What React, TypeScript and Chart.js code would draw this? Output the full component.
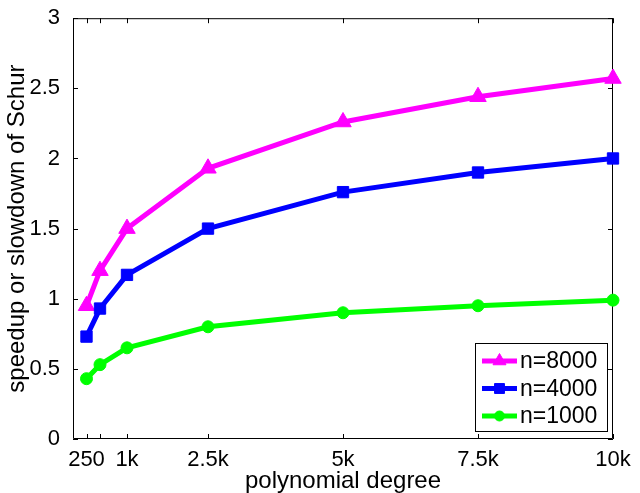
import { useEffect, useRef } from 'react';
import { Chart, registerables } from 'chart.js';
import { drawPoint } from 'chart.js/helpers';

Chart.register(...registerables);

// polynomial degree (x) and measured speedup for each problem size n
const degrees = [250, 500, 1000, 2500, 5000, 7500, 10000];
const speedupN8000 = [0.95, 1.2, 1.5, 1.93, 2.26, 2.44, 2.57];
const speedupN4000 = [0.73, 0.93, 1.17, 1.5, 1.76, 1.9, 2.0];
const speedupN1000 = [0.43, 0.53, 0.65, 0.8, 0.9, 0.95, 0.99];

const seriesNames = ['n=8000', 'n=4000', 'n=1000'];
const seriesColors = ['#ff00ff', '#0000ff', '#00ff00'];

const xTickValues = [250, 500, 1000, 2500, 5000, 7500, 10000];
const xTickLabels = ['250', '', '1k', '2.5k', '5k', '7.5k', '10k'];
const yTickValues = [0, 0.5, 1, 1.5, 2, 2.5, 3];
const yTickLabels = ['0', '0.5', '1', '1.5', '2', '2.5', '3'];

const FONT = '"Liberation Sans", Arial, Helvetica, sans-serif';

// Box around the axes with inward tick marks on all four sides
const framePlugin = {
  id: 'frame',
  beforeDatasetsDraw(chart: any) {
    const { ctx, chartArea: a, scales } = chart;
    const tl = 5;
    ctx.save();
    ctx.strokeStyle = '#000';
    ctx.lineWidth = 1;
    ctx.beginPath();
    ctx.rect(a.left + 0.5, a.top + 0.5, a.right - a.left - 1, a.bottom - a.top - 1);
    for (const v of xTickValues) {
      const x = Math.round(scales.x.getPixelForValue(v)) + 0.5;
      ctx.moveTo(x, a.bottom);
      ctx.lineTo(x, a.bottom - tl);
      ctx.moveTo(x, a.top);
      ctx.lineTo(x, a.top + tl);
    }
    for (const v of yTickValues) {
      const y = Math.round(scales.y.getPixelForValue(v)) + 0.5;
      ctx.moveTo(a.left, y);
      ctx.lineTo(a.left + tl, y);
      ctx.moveTo(a.right, y);
      ctx.lineTo(a.right - tl, y);
    }
    ctx.stroke();
    ctx.restore();
  },
};

// Boxed legend in the lower-right corner of the plot area
const boxLegendPlugin = {
  id: 'boxLegend',
  afterDraw(chart: any) {
    const { ctx, chartArea: a } = chart;
    const boxRight = a.right - 5;
    const boxBottom = a.bottom - 7;
    const boxW = 133;
    const rowH = 27.5;
    const boxH = 89;
    const left = boxRight - boxW;
    const top = boxBottom - boxH;
    ctx.save();
    ctx.fillStyle = '#fff';
    ctx.fillRect(left, top, boxW, boxH);
    ctx.strokeStyle = '#000';
    ctx.lineWidth = 1;
    ctx.strokeRect(left + 0.5, top + 0.5, boxW - 1, boxH - 1);
    ctx.font = `23px ${FONT}`;
    ctx.textBaseline = 'middle';
    ctx.textAlign = 'left';
    chart.data.datasets.forEach((ds: any, i: number) => {
      const y = top + 18 + i * rowH;
      const x0 = left + 7;
      const x1 = left + 42;
      ctx.strokeStyle = ds.borderColor;
      ctx.fillStyle = ds.borderColor;
      ctx.lineWidth = 5;
      ctx.beginPath();
      ctx.moveTo(x0, y);
      ctx.lineTo(x1, y);
      ctx.stroke();
      ctx.lineWidth = 1;
      drawPoint(ctx, {
        pointStyle: ds.pointStyle,
        radius: ds.pointStyle === 'triangle' ? 7.5 : ds.pointStyle === 'rect' ? 7 : 5,
        rotation: 0,
        borderWidth: 1,
      } as any, (x0 + x1) / 2, y);
      ctx.fillStyle = '#000';
      ctx.fillText(ds.label, x1 + 3, y + 1);
    });
    ctx.restore();
  },
};

function makeDataset(label: string, color: string, values: number[], style: string, radius: number, order: number) {
  return {
    label,
    data: degrees.map((d, i) => ({ x: d, y: values[i] })),
    borderColor: color,
    backgroundColor: color,
    borderWidth: 5,
    pointStyle: style,
    pointRadius: radius,
    pointBorderWidth: 1,
    pointBackgroundColor: color,
    pointBorderColor: color,
    tension: 0,
    clip: false as any,
    order,
  };
}

export default function App() {
  const canvasRef = useRef<HTMLCanvasElement | null>(null);

  useEffect(() => {
    const canvas = canvasRef.current;
    if (!canvas) return;
    const chart = new Chart(canvas, {
      type: 'line',
      data: {
        datasets: [
          makeDataset(seriesNames[0], seriesColors[0], speedupN8000, 'triangle', 9.5, 3),
          makeDataset(seriesNames[1], seriesColors[1], speedupN4000, 'rect', 8, 2),
          makeDataset(seriesNames[2], seriesColors[2], speedupN1000, 'circle', 6, 1),
        ],
      },
      options: {
        animation: false,
        responsive: false,
        events: [],
        layout: { padding: { top: 14, right: 27, left: 0, bottom: 0 } },
        plugins: {
          legend: { display: false },
          tooltip: { enabled: false },
        },
        scales: {
          x: {
            type: 'linear',
            min: 0,
            max: 10000,
            afterBuildTicks: (scale: any) => {
              scale.ticks = xTickValues.map((v) => ({ value: v }));
            },
            afterFit: (scale: any) => {
              scale.height = 54;
            },
            grid: { display: false },
            border: { display: false },
            ticks: {
              autoSkip: false,
              maxRotation: 0,
              padding: 0,
              color: '#000',
              font: { family: FONT, size: 22 },
              callback: (value: any) => {
                const i = xTickValues.indexOf(Number(value));
                return i >= 0 ? xTickLabels[i] : '';
              },
            },
            title: {
              display: true,
              text: 'polynomial degree',
              color: '#000',
              font: { family: FONT, size: 24, lineHeight: 1 },
              padding: { top: 0, bottom: 0 },
            },
          },
          y: {
            type: 'linear',
            min: 0,
            max: 3,
            afterBuildTicks: (scale: any) => {
              scale.ticks = yTickValues.map((v) => ({ value: v }));
            },
            afterFit: (scale: any) => {
              scale.width = 73;
            },
            grid: { display: false },
            border: { display: false },
            ticks: {
              autoSkip: false,
              padding: 5,
              color: '#000',
              font: { family: FONT, size: 22 },
              callback: (value: any) => {
                const i = yTickValues.indexOf(Number(value));
                return i >= 0 ? yTickLabels[i] : '';
              },
            },
            title: {
              display: true,
              text: 'speedup or slowdown of Schur',
              color: '#000',
              font: { family: FONT, size: 24, lineHeight: 1 },
              padding: { top: 5, bottom: 0 },
            },
          },
        },
      },
      plugins: [framePlugin, boxLegendPlugin],
    });
    return () => chart.destroy();
  }, []);

  return (
    <div style={{ position: 'absolute', left: 0, top: 0, width: 640, height: 493, background: '#fff' }}>
      <canvas ref={canvasRef} width={640} height={493} />
    </div>
  );
}
